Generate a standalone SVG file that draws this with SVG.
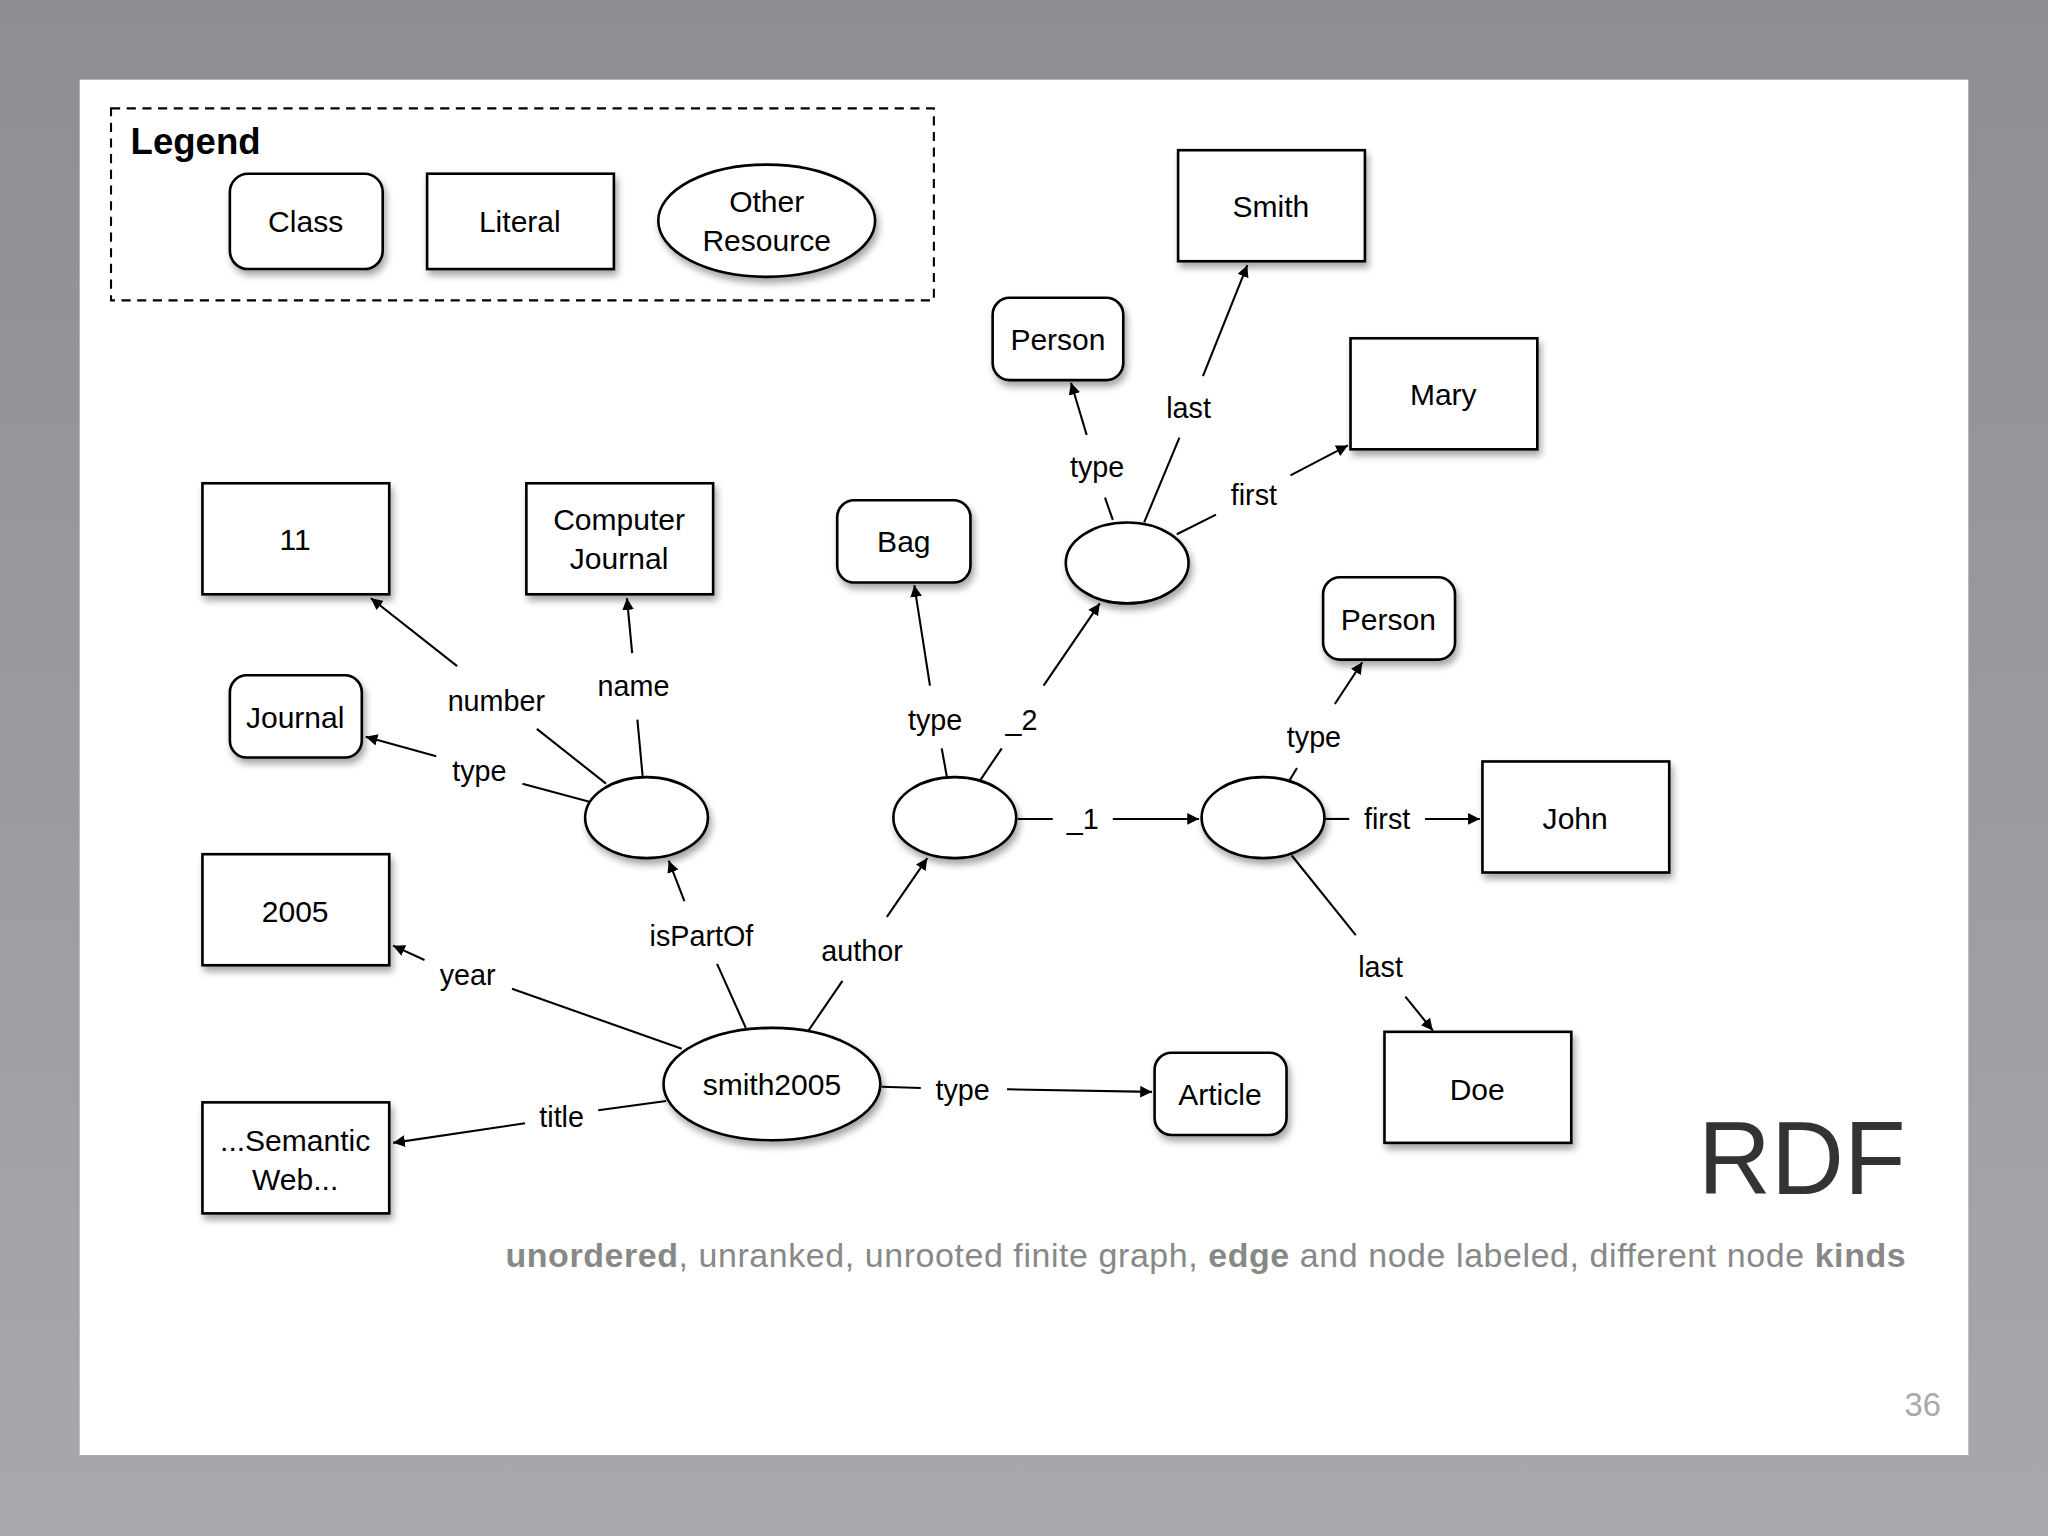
<svg xmlns="http://www.w3.org/2000/svg" width="2048" height="1536" viewBox="0 0 2048 1536">
<defs>
<linearGradient id="bg" x1="0" y1="0" x2="0" y2="1"><stop offset="0" stop-color="#8e8e92"/><stop offset="1" stop-color="#a9a9ad"/></linearGradient>
<filter id="sh" x="-20%" y="-20%" width="150%" height="160%"><feDropShadow dx="2" dy="4" stdDeviation="3" flood-color="#000" flood-opacity="0.35"/></filter>
<marker id="ar" viewBox="0 0 10 10" refX="10" refY="5" markerWidth="9" markerHeight="9" markerUnits="userSpaceOnUse" orient="auto"><path d="M0,0 L10,5 L0,10 z" fill="#000"/></marker>
<style>
.n{fill:#fff;stroke:#000;stroke-width:2;filter:url(#sh)}
.t{font-family:"Liberation Sans",Arial,sans-serif;font-size:23px;fill:#000;text-anchor:middle}
.l{font-family:"Liberation Sans",Arial,sans-serif;font-size:22px;fill:#000;text-anchor:middle}
.e{stroke:#000;stroke-width:1.6;fill:none}
.a{stroke:#000;stroke-width:1.6;fill:none;marker-end:url(#ar)}
</style>
</defs>
<rect width="2048" height="1536" fill="url(#bg)"/>
<g transform="scale(1.30612)">
<rect x="61" y="61" width="1446" height="1053" fill="#fff"/>
<g id="legend">
<rect x="85" y="83" width="630" height="147" fill="none" stroke="#000" stroke-width="1.6" stroke-dasharray="7,5"/>
<text x="100" y="118" font-family="Liberation Sans,Arial,sans-serif" font-size="28" font-weight="bold">Legend</text>
<rect class="n" x="176" y="133" width="117" height="73" rx="14"/><text class="t" x="234" y="178">Class</text>
<rect class="n" x="327" y="133" width="143" height="73"/><text class="t" x="398" y="178">Literal</text>
<ellipse class="n" cx="587" cy="169" rx="83" ry="43"/><text class="t" x="587" y="162">Other</text><text class="t" x="587" y="192">Resource</text>
</g>
<g id="smith"><rect class="n" x="902" y="115" width="143" height="85"/><text class="t" x="973" y="166">Smith</text></g>
<g id="person1"><rect class="n" x="760" y="228" width="100" height="63" rx="13"/><text class="t" x="810" y="268">Person</text></g>
<g id="mary"><rect class="n" x="1034" y="259" width="143" height="85"/><text class="t" x="1105" y="310">Mary</text></g>
<g id="blankA"><ellipse class="n" cx="863" cy="431" rx="47" ry="31"/></g>
<g id="bag"><rect class="n" x="641" y="383" width="102" height="63" rx="13"/><text class="t" x="692" y="423">Bag</text></g>
<g id="n11"><rect class="n" x="155" y="370" width="143" height="85"/><text class="t" x="226" y="421">11</text></g>
<g id="cj"><rect class="n" x="403" y="370" width="143" height="85"/><text class="t" x="474" y="406">Computer</text><text class="t" x="474" y="436">Journal</text></g>
<g id="journal"><rect class="n" x="176" y="517" width="101" height="63" rx="13"/><text class="t" x="226" y="557">Journal</text></g>
<g id="blankB"><ellipse class="n" cx="495" cy="626" rx="47" ry="31"/></g>
<g id="blankC"><ellipse class="n" cx="731" cy="626" rx="47" ry="31"/></g>
<g id="blankD"><ellipse class="n" cx="967" cy="626" rx="47" ry="31"/></g>
<g id="person2"><rect class="n" x="1013" y="442" width="101" height="63" rx="13"/><text class="t" x="1063" y="482">Person</text></g>
<g id="john"><rect class="n" x="1135" y="583" width="143" height="85"/><text class="t" x="1206" y="635">John</text></g>
<g id="y2005"><rect class="n" x="155" y="654" width="143" height="85"/><text class="t" x="226" y="706">2005</text></g>
<g id="smith2005"><ellipse class="n" cx="591" cy="830" rx="83" ry="43"/><text class="t" x="591" y="838">smith2005</text></g>
<g id="article"><rect class="n" x="884" y="806" width="101" height="63" rx="13"/><text class="t" x="934" y="846">Article</text></g>
<g id="doe"><rect class="n" x="1060" y="790" width="143" height="85"/><text class="t" x="1131" y="842">Doe</text></g>
<g id="semantic"><rect class="n" x="155" y="844" width="143" height="85"/><text class="t" x="226" y="881">...Semantic</text><text class="t" x="226" y="911">Web...</text></g>
<g id="connectors">
<path class="e" d="M510,843 L458,850"/><path class="a" d="M402,860 L301,875"/><text class="l" x="430" y="863">title</text>
<path class="e" d="M522,803 L392,757"/><path class="a" d="M325,735 L301,724"/><text class="l" x="358" y="754">year</text>
<path class="e" d="M571,787 L549,738"/><path class="a" d="M524,690 L512,659"/><text class="l" x="537" y="724">isPartOf</text>
<path class="e" d="M619,789 L645,751"/><path class="a" d="M679,702 L710,657"/><text class="l" x="660" y="736">author</text>
<path class="e" d="M675,832 L705,833"/><path class="a" d="M771,834 L882,836"/><text class="l" x="737" y="842">type</text>
<path class="e" d="M464,600 L411,558"/><path class="a" d="M350,510 L284,458"/><text class="l" x="380" y="544">number</text>
<path class="e" d="M492,594 L488,551"/><path class="a" d="M484,500 L480,458"/><text class="l" x="485" y="533">name</text>
<path class="e" d="M452,614 L400,600"/><path class="a" d="M334,579 L280,564"/><text class="l" x="367" y="598">type</text>
<path class="e" d="M725,595 L721,573"/><path class="a" d="M712,525 L700,448"/><text class="l" x="716" y="559">type</text>
<path class="e" d="M750,598 L767,573"/><path class="a" d="M799,525 L842,462"/><text class="l" x="782" y="559">_2</text>
<path class="e" d="M779,627 L806,627"/><path class="a" d="M852,627 L918,627"/><text class="l" x="829" y="635">_1</text>
<path class="e" d="M852,398 L846,381"/><path class="a" d="M832,333 L820,293"/><text class="l" x="840" y="365">type</text>
<path class="e" d="M876,400 L903,335"/><path class="a" d="M921,288 L955,203"/><text class="l" x="910" y="320">last</text>
<path class="e" d="M901,409 L931,394"/><path class="a" d="M988,364 L1032,341"/><text class="l" x="960" y="387">first</text>
<path class="e" d="M987,598 L993,588"/><path class="a" d="M1022,539 L1043,507"/><text class="l" x="1006" y="572">type</text>
<path class="e" d="M1014,627 L1033,627"/><path class="a" d="M1091,627 L1133,627"/><text class="l" x="1062" y="635">first</text>
<path class="e" d="M989,655 L1038,716"/><path class="a" d="M1076,763 L1097,789"/><text class="l" x="1057" y="748">last</text>
</g>
<text x="1459" y="914" font-family="Liberation Sans,Arial,sans-serif" font-size="80" fill="#333" text-anchor="end" textLength="159" lengthAdjust="spacingAndGlyphs">RDF</text>
<text x="387" y="970" font-family="Liberation Sans,Arial,sans-serif" font-size="26" fill="#888" textLength="1072" lengthAdjust="spacing"><tspan font-weight="bold">unordered</tspan>, unranked, unrooted finite graph, <tspan font-weight="bold">edge</tspan> and node labeled, different node <tspan font-weight="bold">kinds</tspan></text>
<text x="1486" y="1084" font-family="Liberation Sans,Arial,sans-serif" font-size="25" fill="#aaa" text-anchor="end">36</text>
</g>
</svg>
